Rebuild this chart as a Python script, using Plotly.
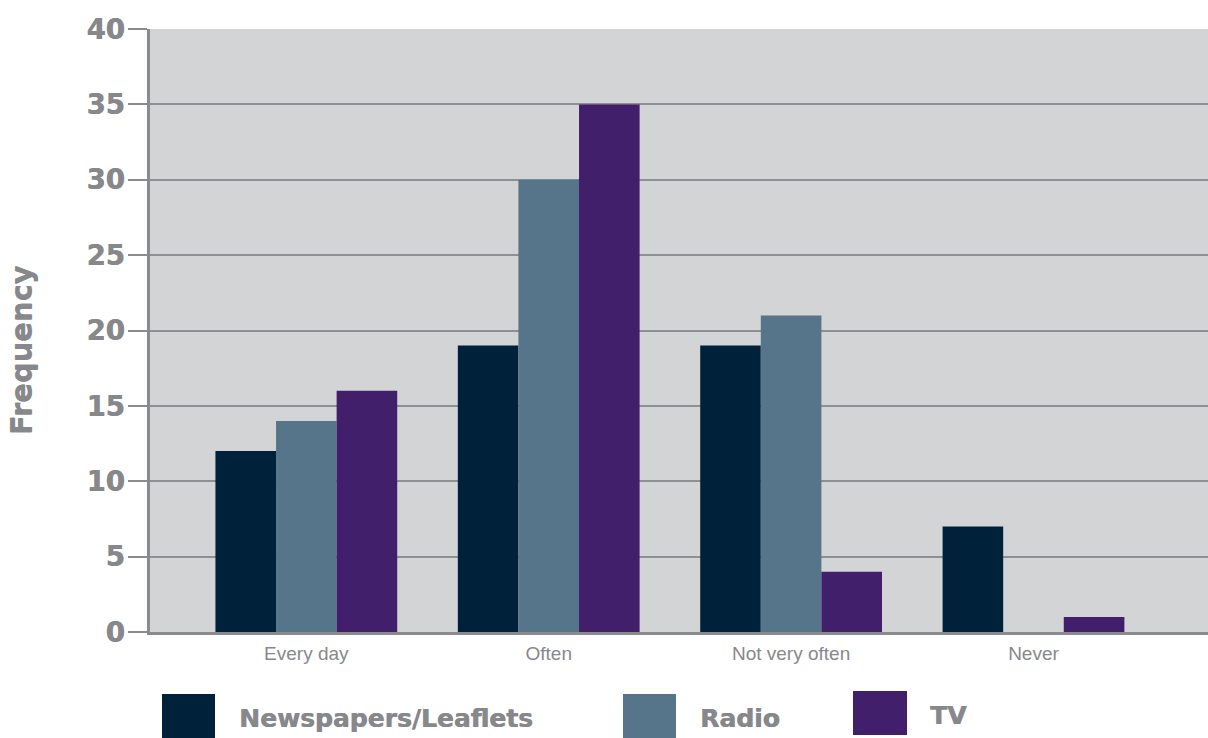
import plotly.graph_objects as go

categories = ["Every day", "Often", "Not very often", "Never"]
newspapers = [12, 19, 19, 7]
radio = [14, 30, 21, 0]
tv = [16, 35, 4, 1]

series_names = ["Newspapers/Leaflets", "Radio", "TV"]
series_values = [newspapers, radio, tv]
colors = ["#00213a", "#56758a", "#421f6a"]

grey_text = "#87888c"
axis_grey = "#8a8b8e"
font_heavy = "DejaVu Sans, sans-serif"
font_plain = "Liberation Sans, Arial, sans-serif"
# a thin same-colour shadow thickens the heavy labels slightly
heavy_shadow = "0.6px 0 0 #87888c"

fig = go.Figure()
for name, vals, col in zip(series_names, series_values, colors):
    fig.add_trace(go.Bar(x=categories, y=vals, name=name, marker_color=col,
                         marker_line_width=0, showlegend=False))

W, H = 1208, 738
ml, mr, mt, mb = 150, 0, 29, 106
pw, ph = W - ml - mr, H - mt - mb


def px_x(p):
    return (p - ml) / pw


def px_y(p):
    return (H - mb - p) / ph


# Legend: coloured squares with bold labels beneath the plot
legend_items = [
    (162, 215, 694, 738, 237, 718),
    (623, 676, 694, 738, 698, 718),
    (853, 907, 691, 735, 928, 715),
]
shapes = []
annotations = []
for (x0, x1, y0, y1, tx, ty), name, col in zip(legend_items, series_names, colors):
    shapes.append(dict(type="rect", xref="paper", yref="paper",
                       x0=px_x(x0), x1=px_x(x1), y0=px_y(y1), y1=px_y(y0),
                       fillcolor=col, line_width=0, layer="above"))
    annotations.append(dict(text=f"<b>{name}</b>", xref="paper", yref="paper",
                            x=px_x(tx), y=px_y(ty), xanchor="left", yanchor="middle",
                            showarrow=False,
                            font=dict(family=font_heavy, size=25, color=grey_text,
                                      shadow=heavy_shadow)))

annotations.append(dict(text="<b>Frequency</b>", xref="paper", yref="paper",
                        x=px_x(22), y=px_y(350), xanchor="center", yanchor="middle",
                        textangle=-90, showarrow=False,
                        font=dict(family=font_heavy, size=29, color=grey_text,
                                  shadow="0 -0.6px 0 #87888c")))

fig.update_layout(
    width=W, height=H,
    margin=dict(l=ml, r=mr, t=mt, b=mb, pad=0),
    paper_bgcolor="white",
    plot_bgcolor="#d3d4d6",
    barmode="group",
    bargap=0.25,
    bargroupgap=0,
    shapes=shapes,
    annotations=annotations,
    font=dict(family=font_plain, color=grey_text),
)
fig.update_xaxes(
    type="category",
    range=[-0.645, 3.72],
    showgrid=False,
    showline=True, linecolor=axis_grey, linewidth=3,
    ticks="",
    ticklabelstandoff=2,
    tickfont=dict(family=font_plain, size=19, color=grey_text),
)
fig.update_yaxes(
    range=[0, 40],
    dtick=5,
    showgrid=True, gridcolor="#8e8f92", gridwidth=1.5,
    showline=True, linecolor=axis_grey, linewidth=2.5,
    ticks="outside", ticklen=19, tickcolor=axis_grey, tickwidth=1.5,
    ticklabelstandoff=-2,
    tickfont=dict(family=font_heavy, size=27.5, color=grey_text, weight="bold",
                  shadow=heavy_shadow),
    zeroline=False,
)

fig.write_html("out.html")
